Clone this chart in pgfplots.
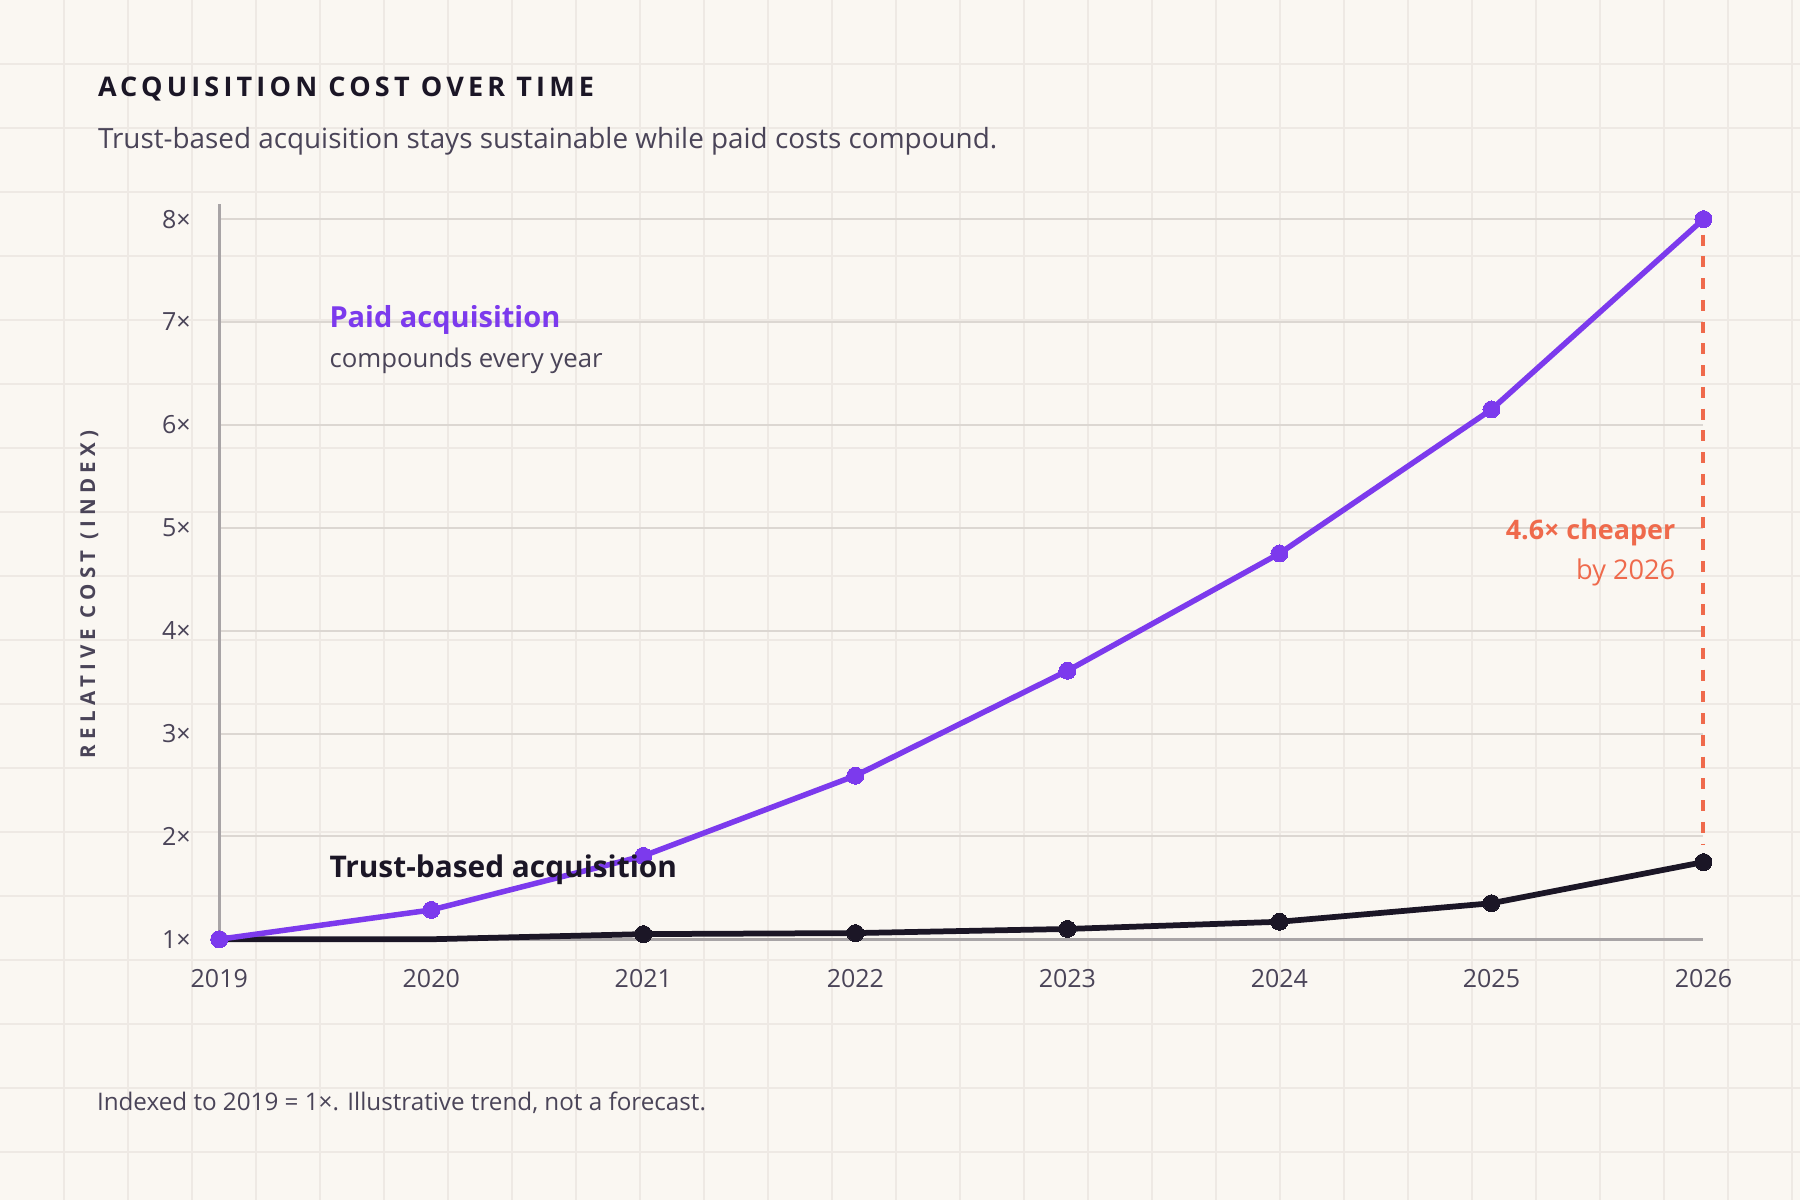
\documentclass[border=0pt]{standalone}
\usepackage{fontspec}
\setmainfont{Open Sans}
\usepackage{pgfplots}
\pgfplotsset{compat=1.18}
\definecolor{bg}{HTML}{FAF7F2}
\definecolor{bggrid}{HTML}{EEE9E4}
\definecolor{gridgray}{HTML}{DCD7D2}
\definecolor{axisgray}{HTML}{A8A4A6}
\definecolor{paidc}{HTML}{7C3AED}
\definecolor{trustc}{HTML}{1B1626}
\definecolor{coral}{HTML}{EF6A4C}
\definecolor{textgray}{HTML}{4A4458}
\begin{document}
\begin{tikzpicture}
\fill[bg] (0,0) rectangle (720pt,480pt);
\path[use as bounding box] (0,0) rectangle (720pt,480pt);
\foreach \i in {1,...,28} \draw[bggrid, line width=0.6pt] (\i*25.6pt,0pt) -- (\i*25.6pt,480pt);
\foreach \j in {1,...,18} \draw[bggrid, line width=0.6pt] (0pt,480pt-\j*25.6pt) -- (720pt,480pt-\j*25.6pt);
\begin{axis}[
  at={(87.7pt,104.3pt)}, anchor=south west,
  width=593.7pt, height=294.2pt, scale only axis,
  xmin=2019, xmax=2026, ymin=1, ymax=8.15,
  axis lines=left,
  axis line style={draw=axisgray, line width=1pt, -},
  xtick={2019,2020,2021,2022,2023,2024,2025,2026},
  xticklabels={2019,2020,2021,2022,2023,2024,2025,2026},
  ytick={1,2,3,4,5,6,7,8},
  yticklabels={1×,2×,3×,4×,5×,6×,7×,8×},
  major tick length=0pt,
  ymajorgrids, grid style={draw=gridgray, line width=0.8pt},
  tick label style={font=\fontsize{10}{12}\selectfont, text=textgray},
  yticklabel style={anchor=east, inner sep=0pt, xshift=-11.2pt},
  xticklabel style={anchor=north, inner sep=0pt, yshift=-12.0pt},
  clip=false,
]
\addplot[coral, line width=1.6pt, dash pattern=on 4.4pt off 4.3pt, forget plot] coordinates {(2026,7.85) (2026,1.92)};
\addplot[trustc, line width=2.3pt, line join=round, mark=*, mark size=3.4pt,
  mark options={solid, fill=trustc, draw=trustc, line width=0pt},
  mark indices={1,3,4,5,6,7,8}] coordinates {
  (2019,1.00) (2020,1.00) (2021,1.05) (2022,1.06) (2023,1.10) (2024,1.17) (2025,1.35) (2026,1.75)};
\addplot[paidc, line width=2.2pt, line join=round, mark=*, mark size=3.4pt,
  mark options={solid, fill=paidc, draw=paidc, line width=0pt}] coordinates {
  (2019,1.00) (2020,1.285) (2021,1.81) (2022,2.59) (2023,3.61) (2024,4.75) (2025,6.15) (2026,8.00)};
\end{axis}
\node[anchor=base west, inner sep=0pt, text=trustc, font=\bfseries\fontsize{10.8}{13}\selectfont\addfontfeature{LetterSpace=15.5}] at (39pt,441.3pt) {ACQUISITION COST OVER TIME};
\node[anchor=base west, inner sep=0pt, text=textgray, font=\fontsize{11.14}{13}\selectfont] at (39pt,420.4pt) {Trust-based acquisition stays sustainable while paid costs compound.};
\node[anchor=base, rotate=90, inner sep=0pt, text=textgray, font=\bfseries\fontsize{8.2}{10}\selectfont\addfontfeature{LetterSpace=25.5}] at (38pt,242.2pt) {RELATIVE COST (INDEX)};
\node[anchor=base west, inner sep=0pt, text=paidc, font=\bfseries\fontsize{11.6}{14}\selectfont] at (131.6pt,348.8pt) {Paid acquisition};
\node[anchor=base west, inner sep=0pt, text=textgray, font=\fontsize{10.3}{12}\selectfont] at (131.6pt,333.0pt) {compounds every year};
\node[anchor=base west, inner sep=0pt, text=trustc, font=\bfseries\fontsize{11.94}{14}\selectfont] at (131.6pt,128.9pt) {Trust-based acquisition};
\node[anchor=base east, inner sep=0pt, text=coral, font=\bfseries\fontsize{10.76}{12}\selectfont] at (670.3pt,264.3pt) {4.6× cheaper};
\node[anchor=base east, inner sep=0pt, text=coral, font=\fontsize{10.88}{12}\selectfont] at (670.3pt,248.3pt) {by 2026};
\node[anchor=base west, inner sep=0pt, text=textgray, font=\fontsize{9.69}{11}\selectfont] at (38.6pt,35.8pt) {Indexed to 2019 = 1×. Illustrative trend, not a forecast.};
\end{tikzpicture}
\end{document}
